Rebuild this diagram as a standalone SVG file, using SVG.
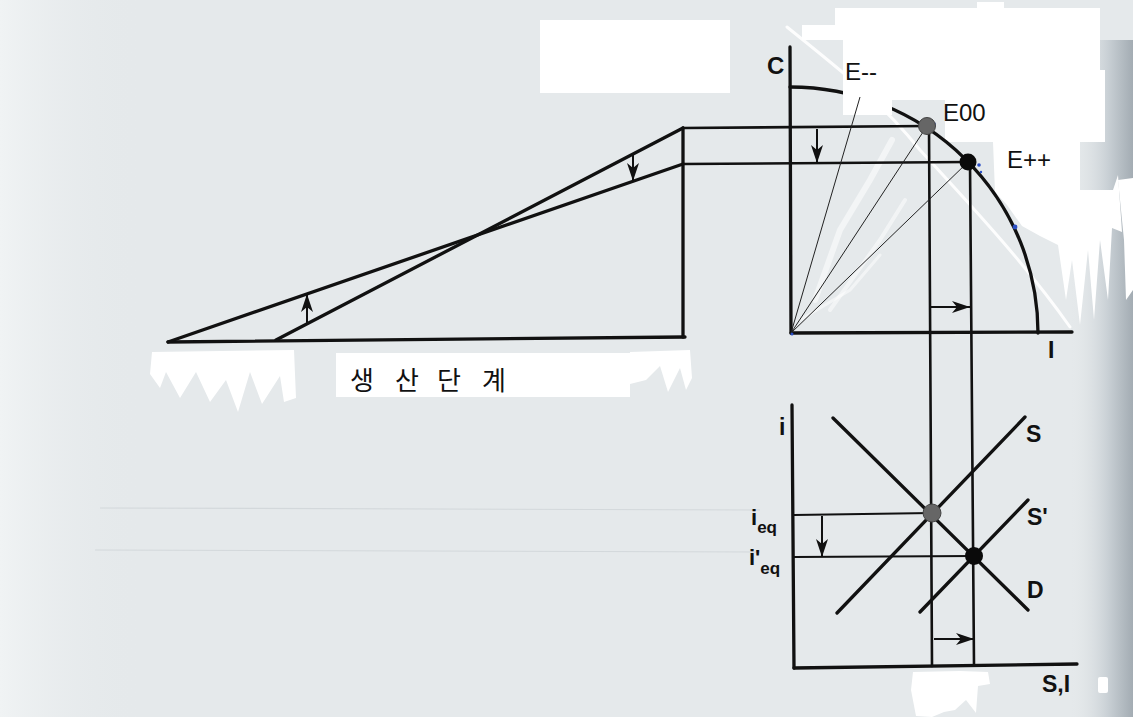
<svg xmlns="http://www.w3.org/2000/svg" width="1133" height="717" viewBox="0 0 1133 717">
<defs>
<linearGradient id="edge" x1="0" y1="0" x2="1" y2="0">
<stop offset="0" stop-color="#e4e8ea" stop-opacity="0"/>
<stop offset="0.6" stop-color="#c9d0d5"/>
<stop offset="1" stop-color="#a3acb3"/>
</linearGradient>
<linearGradient id="leftfade" x1="0" y1="0" x2="1" y2="0">
<stop offset="0" stop-color="#f0f3f4"/>
<stop offset="1" stop-color="#e5e9eb" stop-opacity="0"/>
</linearGradient>
<marker id="ah" markerUnits="userSpaceOnUse" markerWidth="20" markerHeight="14" refX="18" refY="7" orient="auto">
<path d="M0,1 L18,7 L0,13 L5,7 Z" fill="#111"/>
</marker>
<style>
.ln{stroke:#111;fill:none;stroke-linecap:round}
.thick{stroke-width:3.3}
.mid{stroke-width:2.6}
.thin{stroke-width:2}
.fan{stroke:#222;stroke-width:1;fill:none}
.arr{stroke:#111;stroke-width:2;fill:none;marker-end:url(#ah)}
.wh{fill:#ffffff;stroke:none}
.lbl{font-family:"Liberation Sans",Arial,sans-serif;font-weight:bold;fill:#111}
.elbl{font-family:"Liberation Sans",Arial,sans-serif;font-size:24px;fill:#111}
.kr{font-family:"Noto Sans CJK KR","Noto Sans",sans-serif;font-size:26px;fill:#111}
</style>
</defs>
<rect width="1133" height="717" fill="#e5e9eb"/>
<rect x="0" y="0" width="140" height="717" fill="url(#leftfade)"/>
<rect x="1070" y="40" width="63" height="677" fill="url(#edge)"/>
<g id="faint" stroke="#d3d8db" stroke-width="1.2" fill="none">
<line x1="100" y1="508" x2="760" y2="510"/>
<line x1="95" y1="550" x2="760" y2="552"/>
</g>
<g id="whitepatches">
<rect class="wh" x="540" y="20" width="190" height="73"/>
<path class="wh" d="M802,25 L835,25 L835,8 L977,8 L977,2 L1004,2 L1004,8 L1100,8 L1100,70 L1105,70 L1105,142 L1080,142 L1080,190 L1113,190 L1118,175 L1122,232 L1112,228 L1108,300 L1100,240 L1094,320 L1088,250 L1080,325 L1072,260 L1066,300 L1058,245 L1040,236 L1022,226 L1007,205 L995,192 L993,142 L945,142 L945,100 L892,100 L892,115 L845,115 L845,40 L802,40 Z"/>
<path class="wh" d="M1118,180 L1133,178 L1133,290 L1126,300 L1124,240 Z"/>
<rect class="wh" x="336" y="353" width="294" height="44"/>
<path class="wh" d="M630,352 L690,350 L692,378 L686,390 L680,368 L668,392 L660,366 L646,380 L630,384 Z"/>
<path class="wh" d="M152,352 L294,350 L296,398 L284,402 L280,376 L262,404 L250,372 L238,412 L226,380 L210,402 L196,372 L180,398 L166,372 L160,388 L150,374 Z"/>
<path class="wh" d="M913,672 L960,671 L988,672 L990,684 L978,686 L976,713 L966,700 L955,710 L944,712 L932,717 L916,716 L911,690 Z"/>
<rect class="wh" x="1098" y="677" width="10" height="16" rx="2"/>
</g>
<g id="scratches" fill="none" stroke="#ffffff" stroke-linecap="round">
<path d="M787,27 C840,70 880,100 920,150 C980,215 1030,270 1070,327" stroke-width="3" opacity="0.9"/>
<path d="M815,300 L840,230 L870,180 L892,140" stroke-width="6" opacity="0.55"/>
<path d="M830,310 L880,240 L905,200" stroke-width="4" opacity="0.5"/>
<path d="M800,320 L850,290 L880,255" stroke-width="3" opacity="0.5"/>
</g>
<g id="connectors">
<line class="ln thick" x1="168" y1="342" x2="685" y2="337"/>
<line class="ln thick" x1="683" y1="337" x2="683" y2="128"/>
<line class="ln thick" x1="276" y1="340" x2="683" y2="128"/>
<line class="ln thick" x1="168" y1="342" x2="683" y2="164"/>
<line class="ln mid" x1="683" y1="128" x2="927" y2="126"/>
<line class="ln mid" x1="683" y1="164" x2="968" y2="162"/>
<line class="ln mid" x1="929" y1="126" x2="932" y2="666"/>
<line class="ln mid" x1="970" y1="162" x2="974" y2="665"/>
<line class="ln thin" x1="794" y1="515" x2="932" y2="513"/>
<line class="ln thin" x1="794" y1="557" x2="974" y2="556"/>
<line class="arr" x1="817" y1="129" x2="817" y2="163"/>
<line class="arr" x1="633" y1="154" x2="633" y2="181"/>
<line class="arr" x1="307" y1="324" x2="307" y2="294"/>
<line class="arr" x1="930" y1="307" x2="970" y2="307"/>
<line class="arr" x1="822" y1="516" x2="822" y2="557"/>
<line class="arr" x1="934" y1="639" x2="974" y2="639"/>
</g>
<g id="axes-top">
<line class="ln thick" x1="790" y1="47" x2="791" y2="333"/>
<line class="ln thick" x1="791" y1="333" x2="1072" y2="332"/>
<path class="ln thick" d="M790,87 A248,246 0 0 1 1038,333"/>
</g>
<g id="axes-bottom">
<line class="ln thick" x1="792" y1="405" x2="794" y2="668"/>
<line class="ln thick" x1="794" y1="668" x2="1077" y2="664"/>
<line class="ln thick" x1="837" y1="613" x2="1025" y2="417"/>
<line class="ln thick" x1="833" y1="418" x2="1028" y2="610"/>
<line class="ln thick" x1="920" y1="612" x2="1028" y2="500"/>
</g>
<g id="ebox">
<rect class="wh" x="843" y="40" width="49" height="75"/>
</g>
<g id="fan">
<line class="fan" x1="791" y1="333" x2="860" y2="97"/>
<line class="fan" x1="791" y1="333" x2="927" y2="126"/>
<line class="fan" x1="791" y1="333" x2="968" y2="162"/>
</g>
<g id="specks" fill="#2b4fc4">
<circle cx="934" cy="124" r="1.8"/>
<circle cx="979" cy="165" r="1.8"/>
<circle cx="981" cy="172" r="1.2"/>
<circle cx="1015" cy="227" r="2.4"/>
<circle cx="792" cy="334" r="1.5"/>
</g>
<g id="E00"><circle cx="927" cy="126" r="8.5" fill="#666" stroke="#444" stroke-width="1"/><text class="elbl" x="943" y="121">E00</text></g>
<g id="Epp"><circle cx="968" cy="162" r="8.5" fill="#0a0a0a"/><text class="elbl" x="1007" y="168">E++</text></g>
<g id="Emm"><text class="elbl" x="845" y="80">E--</text></g>
<g id="Eeq"><circle cx="932" cy="513" r="9" fill="#666" stroke="#444" stroke-width="1"/></g>
<g id="Eeq2"><circle cx="974" cy="556" r="9" fill="#0a0a0a"/></g>
<g id="labels">
<text class="lbl" x="767" y="74" font-size="24">C</text>
<text class="lbl" x="1048" y="358" font-size="23">I</text>
<text class="lbl" x="779" y="435" font-size="23">i</text>
<text class="lbl" x="1026" y="442" font-size="23">S</text>
<text class="lbl" x="1027" y="525" font-size="23">S'</text>
<text class="lbl" x="1027" y="598" font-size="23">D</text>
<text class="lbl" x="1042" y="692" font-size="23">S,I</text>
<text class="lbl" x="751" y="525" font-size="22">i<tspan font-size="17" dy="8">eq</tspan></text>
<text class="lbl" x="749" y="565" font-size="22">i'<tspan font-size="17" dy="9">eq</tspan></text>
<text class="kr" x="350 380 395 425 437 470 482" y="390">생 산 단 계</text>
</g>
</svg>
